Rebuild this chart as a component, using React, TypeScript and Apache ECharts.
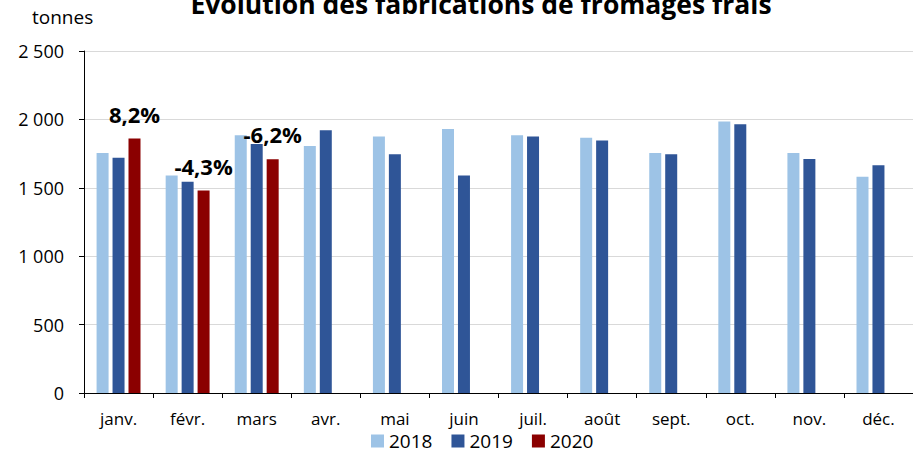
import React, { useEffect, useRef } from "react";
import * as echarts from "echarts";

const categories = ["janv.", "févr.", "mars", "avr.", "mai", "juin", "juil.", "août", "sept.", "oct.", "nov.", "déc."];
const s2018 = [1755, 1590, 1885, 1805, 1875, 1930, 1885, 1865, 1755, 1985, 1755, 1580];
const s2019 = [1720, 1545, 1820, 1920, 1745, 1590, 1875, 1845, 1745, 1965, 1710, 1665];
const s2020: (number | null)[] = [1860, 1480, 1708, null, null, null, null, null, null, null, null, null];
const labels2020 = ["8,2%", "-4,3%", "-6,2%"];
const yTicks = [0, 500, 1000, 1500, 2000, 2500];

const FONT = "'Open Sans', 'Noto Sans', sans-serif";

export default function App() {
  const ref = useRef<HTMLDivElement>(null);
  useEffect(() => {
    if (!ref.current) return;
    const chart = echarts.init(ref.current, null, { renderer: "svg" });
    chart.setOption({
      animation: false,
      textStyle: { fontFamily: FONT },
      title: {
        text: "Evolution des fabrications de fromages frais",
        left: 476,
        textAlign: "center",
        top: -15,
        textStyle: { fontSize: 26.5, fontWeight: "bold", color: "#000", fontFamily: FONT },
      },
      graphic: [
        {
          type: "text",
          left: 32,
          top: 7,
          style: { text: "tonnes", fontSize: 19, fill: "#000", fontFamily: FONT },
        },
      ],
      legend: {
        bottom: -3.5,
        left: 366,
        itemWidth: 13,
        itemHeight: 13,
        itemGap: 19,
        icon: "rect",
        textStyle: { fontSize: 19, lineHeight: 15, color: "#000", fontFamily: FONT },
        data: ["2018", "2019", "2020"],
      },
      grid: { left: 84, top: 51, bottom: 59, right: -11, containLabel: false },
      xAxis: {
        type: "category",
        data: categories,
        axisLine: { lineStyle: { color: "#000", width: 1 } },
        axisTick: { show: true, alignWithLabel: false, length: 5, lineStyle: { color: "#000" } },
        axisLabel: { fontSize: 17, color: "#000", margin: 17, fontFamily: FONT },
      },
      yAxis: {
        type: "value",
        min: 0,
        max: 2500,
        interval: 500,
        axisLine: { show: true, lineStyle: { color: "#000", width: 1 } },
        axisTick: { show: true, length: 5, lineStyle: { color: "#000" } },
        splitLine: { lineStyle: { color: "#D9D9D9" } },
        axisLabel: {
          fontSize: 18,
          color: "#000",
          margin: 20,
          fontFamily: FONT,
          formatter: (v: number) => (yTicks.includes(v) ? String(v).replace(/\B(?=(\d{3})+(?!\d))/g, " ") : ""),
        },
      },
      series: [
        {
          name: "2018",
          type: "bar",
          data: s2018,
          barWidth: 12,
          barGap: "33%",
          itemStyle: { color: "#9DC3E6" },
        },
        {
          name: "2019",
          type: "bar",
          data: s2019,
          barWidth: 12,
          barGap: "33%",
          itemStyle: { color: "#2F5597" },
        },
        {
          name: "2020",
          type: "bar",
          data: s2020,
          barWidth: 12,
          barGap: "33%",
          itemStyle: { color: "#8B0000" },
          label: {
            show: true,
            position: "top",
            distance: 14,
            fontSize: 22,
            fontWeight: "bold",
            color: "#000",
            fontFamily: FONT,
            formatter: (p: any) => labels2020[p.dataIndex] ?? "",
          },
        },
      ],
    });
    return () => chart.dispose();
  }, []);
  return <div ref={ref} style={{ width: 913, height: 452, position: "absolute", left: 0, top: 0 }} />;
}
